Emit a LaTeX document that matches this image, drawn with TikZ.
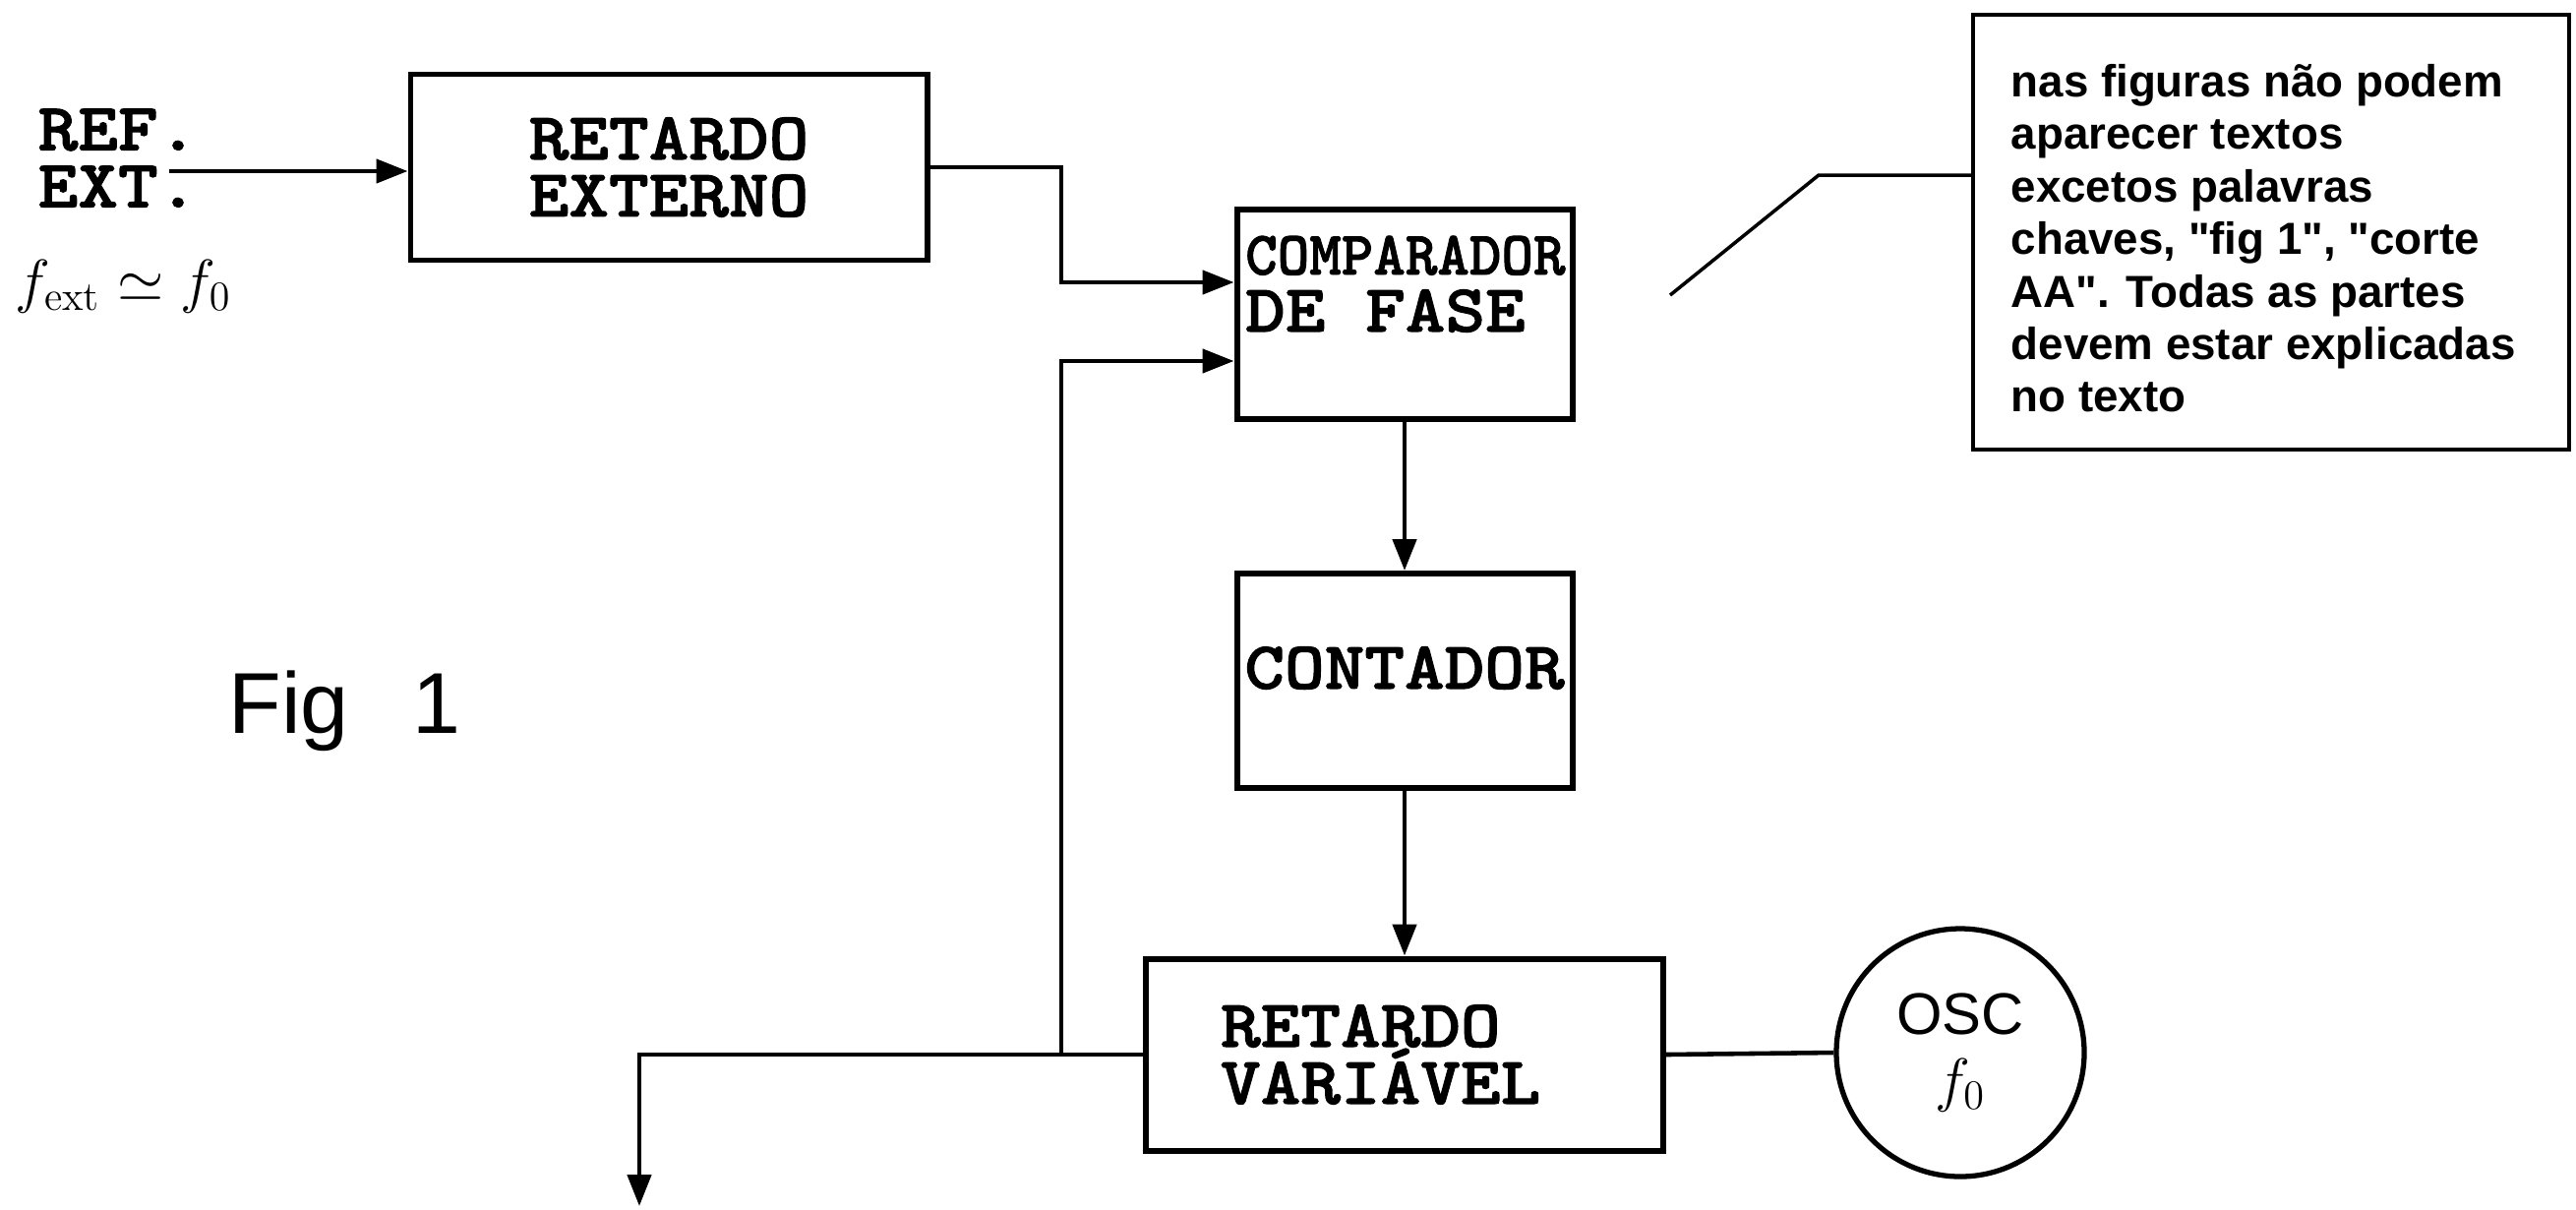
\documentclass[tikz,border=0pt]{standalone}
\usepackage{fontspec}
\usepackage{tikz}
\usetikzlibrary{
	arrows.meta,
	positioning
}
\newfontfamily\blkfont{lmmonolt10-bold.otf}[FakeBold=1.5, FakeStretch=1.13]
\newfontfamily\notefont{Liberation Sans}

\begin{document}
\begin{tikzpicture}[
		blk/.style={draw, line width=1.7pt, inner sep=0pt},
		blktxt/.style={font={\blkfont\fontsize{19.5}{16.5}\selectfont}, inner sep=0pt},
		conn/.style={line width=1.3pt},
		sig/.style={conn, -{Triangle[length=3.2mm, width=2.4mm]}}
	]
		\useasboundingbox (0,0) rectangle (26.19,-12.29);

		% blocos
		\node[blk, blktxt, minimum width=5.25cm, minimum height=1.89cm, align=center] (retext) at (6.80,-1.70) {RETARDO\\EXTERNO};
		\node[blk, minimum width=3.41cm, minimum height=2.13cm] (comp) at (14.28,-3.195) {};
		\node[blktxt, anchor=north west, align=left] (compTxt) at ([xshift=1.1mm, yshift=-2.9mm]comp.north west) {\scalebox{0.80}[0.92]{COMPARADOR}\\DE FASE};
		\node[blk, minimum width=3.41cm, minimum height=2.18cm] (cont) at (14.28,-6.92) {};
		\node[blktxt] (contTxt) at ([yshift=1.3mm]cont.center) {CONTADOR};
		\node[blk, blktxt, minimum width=5.26cm, minimum height=1.95cm, text width=3.74cm, inner xsep=0.76cm, align=left] (retvar) at (14.28,-10.72) {RETARDO\\VARIÁVEL};
		\node[draw, circle, line width=1.5pt, minimum size=2.52cm, inner sep=0pt, align=center, font={\notefont\fontsize{17}{19}\selectfont}] (osc) at (19.93,-10.70) {OSC\\$f_0$};

		% entrada
		\node[blktxt, anchor=north west, align=left] (refTxt) at (0.38,-1.10) {REF.\\EXT.};
		\node[anchor=base west, inner sep=0pt, font={\fontsize{17}{20}\selectfont}] (freq) at (0.15,-3.06) {$f_{\mathrm{ext}}\simeq f_0$};
		\node[anchor=base west, inner sep=0pt, font={\notefont\fontsize{25}{30}\selectfont}] (fig) at (2.32,-7.45) {Fig\hspace{0.65cm}1};

		\coordinate (refIn) at (1.72,-1.74);
		\coordinate (cin1) at ([yshift=3.25mm]comp.west);
		\coordinate (cin2) at ([yshift=-4.75mm]comp.west);
		\coordinate (tap) at (10.79,-10.72);
		\coordinate (saida) at (6.50,-12.26);

		\draw[sig] (refIn) -- (retext.west |- refIn);
		\draw[sig] (retext.east) -| (tap |- cin1) -- (cin1);
		\draw[sig] (tap) |- (cin2);
		\draw[sig] (comp) -- (cont);
		\draw[sig] (cont) -- (retvar);
		\draw[sig] (retvar.west) -| (saida);
		\draw[conn] (retvar.east) -- (osc.west);

		% nota
		\node[draw, line width=1.3pt, minimum width=6.06cm, minimum height=4.42cm] (nota) at (23.09,-2.36) {};
		\node[anchor=north west, inner sep=0pt, align=left, font={\notefont\bfseries\fontsize{13}{15.2}\selectfont}] (notaTxt) at (20.44,-0.645) {nas figuras não podem\\aparecer textos\\excetos palavras\\chaves, "fig 1", "corte\\AA". Todas as partes\\devem estar explicadas\\no texto};
		\coordinate (knee) at (18.49,-1.78);
		\coordinate (tip) at (16.98,-3.00);
		\draw[line width=1pt] (nota.west |- knee) -- (knee) -- (tip);
	\end{tikzpicture}
\end{document}
